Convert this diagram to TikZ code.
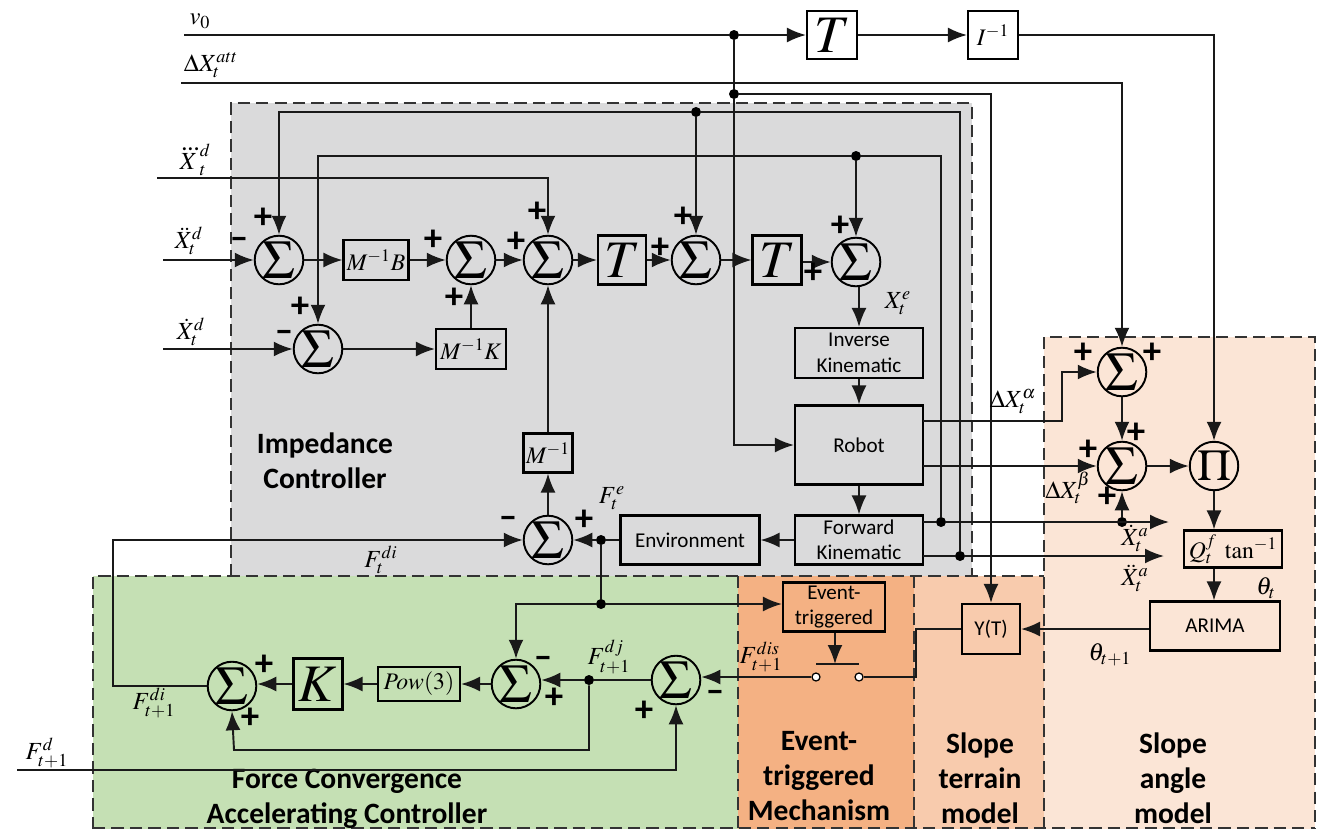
\documentclass[tikz,border=0pt]{standalone}
\usepackage{amsmath}
\usepackage{mathptmx}
\usepackage[no-math]{fontspec}
\setmainfont{Carlito}
\usetikzlibrary{arrows.meta}
\definecolor{impedgray}{HTML}{DADADB}
\definecolor{forcegreen}{HTML}{C5E0B4}
\definecolor{eventorange}{HTML}{F4B183}
\definecolor{terrainorange}{HTML}{F8CBAD}
\definecolor{anglepeach}{HTML}{FBE5D6}
\tikzset{
    zone/.style={draw=black!80, line width=0.9pt, dash pattern=on 7pt off 3.5pt},
    wire/.style={draw=black!90, line width=1.1pt},
    arrowwire/.style={wire, -{Latex[length=0.38cm,width=0.3cm]}},
    sumnode/.style={draw, circle, line width=1.1pt, minimum size=0.97cm, inner sep=0pt, font=\fontsize{31}{31}\selectfont},
    blockbox/.style 2 args={draw, rectangle, line width=1.2pt, minimum width=#1*0.02cm, minimum height=#2*0.02cm, inner sep=0pt, font=\fontsize{13.5}{16}\selectfont},
    wordbox/.style 2 args={blockbox={#1}{#2}, align=center, font=\fontsize{12}{14.5}\selectfont},
    junc/.style={circle, fill=black, inner sep=0pt, minimum size=0.2cm},
    contact/.style={circle, draw, fill=white, line width=0.7pt, inner sep=0pt, minimum size=0.16cm},
    signmark/.style={inner sep=0pt, font=\bfseries\fontsize{21}{21}\selectfont},
    mathlabel/.style={inner sep=0pt, font=\fontsize{14}{16}\selectfont},
    zonetitle/.style={inner sep=0pt, align=center, font=\bfseries\fontsize{16.8}{19.9}\selectfont}
}
\begin{document}
\begin{tikzpicture}[x=0.02cm, y=-0.02cm]
\useasboundingbox (0,0) rectangle (1317,829);

% regions
\fill[impedgray] (231,103) rectangle (972,576);
\fill[forcegreen] (93,576) rectangle (738,829);
\fill[eventorange] (738,576) rectangle (914,829);
\fill[terrainorange] (914,576) rectangle (1044,829);
\fill[anglepeach] (1044,337) rectangle (1315,829);
\draw[zone] (231,576) -- (231,103) -- (972,103) -- (972,576);
\draw[zone] (93,829) -- (93,576) -- (1044,576);
\draw[zone] (738,576) -- (738,829);
\draw[zone] (914,576) -- (914,829);
\draw[zone] (1044,829) -- (1044,337) -- (1315,337) -- (1315,829);
\draw[zone] (93,828) -- (1315,828);

\node[zonetitle] (titleimp) at (325,461) {Impedance\\Controller};
\node[zonetitle] (titleforce) at (347,799) {Force Convergence\\Accelerating Controller};
\node[zonetitle] (titleevent) at (819,776) {Event-\\triggered\\Mechanism};
\node[zonetitle] (titleterrain) at (980,778) {Slope\\terrain\\model};
\node[zonetitle] (titleangle) at (1173,778) {Slope\\angle\\model};

% summing points
\node[sumnode] (sumxdd) at (279,260) {$\Sigma$};
\node[sumnode] (sumxd) at (318,349) {$\Sigma$};
\node[sumnode] (sumb) at (471,260) {$\Sigma$};
\node[sumnode] (sumxddd) at (548,260) {$\Sigma$};
\node[sumnode] (sumt) at (696,260) {$\Sigma$};
\node[sumnode] (sumtt) at (856,262) {$\Sigma$};
\node[sumnode] (sumfe) at (548,540) {$\Sigma$};
\node[sumnode] (sumdj) at (516,684) {$\Sigma$};
\node[sumnode] (sumdi) at (232,686) {$\Sigma$};
\node[sumnode] (sumdis) at (676,680) {$\Sigma$};
\node[sumnode] (sumalpha) at (1122,372) {$\Sigma$};
\node[sumnode] (sumbeta) at (1122,466) {$\Sigma$};
\node[sumnode, font=\fontsize{25}{25}\selectfont] (prodnode) at (1214,466) {$\Pi$};

% blocks
\node[blockbox={50}{48}, font=\fontsize{30}{30}\selectfont] (topt) at (832,35) {$T$};
\node[blockbox={50}{48}] (inertia) at (993,35) {$I^{-1}$};
\node[blockbox={65}{40}] (minvb) at (376,260) {$M^{-1}B$};
\node[blockbox={70}{40}] (minvk) at (471,349) {$M^{-1}K$};
\node[blockbox={48}{49}, font=\fontsize{30}{30}\selectfont] (tone) at (622,260) {$T$};
\node[blockbox={49}{49}, font=\fontsize{30}{30}\selectfont] (ttwo) at (777,260) {$T$};
\node[blockbox={49}{39}] (minv) at (548,453) {$M^{-1}$};
\node[wordbox={128}{50}] (inverse) at (859,353) {Inverse\\Kinematic};
\node[wordbox={128}{79}] (robot) at (859,445) {Robot};
\node[wordbox={128}{49}] (forward) at (859,540) {Forward\\Kinematic};
\node[wordbox={139}{49}] (environment) at (690,540) {Environment};
\node[wordbox={102}{49}] (event) at (834,607) {Event-\\triggered};
\node[wordbox={58}{50}] (yt) at (991,629) {Y(T)};
\node[wordbox={130}{49}] (arima) at (1215,626) {ARIMA};
\node[blockbox={98}{37}] (qtan) at (1233,549) {$Q_t^f\ \tan^{-1}$};
\node[blockbox={82}{34}] (pow) at (419,684) {$Pow(3)$};
\node[blockbox={49}{51}, font=\fontsize{30}{30}\selectfont] (gaink) at (318,684) {$K$};

% junctions
\node[junc] (jvzero) at (734,35) {};
\node[junc] (jslope) at (734,94) {};
\node[junc] (jtop) at (696,112) {};
\node[junc] (jmid) at (856,156) {};
\node[junc] (jfone) at (941,522) {};
\node[junc] (jftwo) at (960,556) {};
\node[junc] (jfa) at (1122,522) {};
\node[junc] (jfe) at (601,540) {};
\node[junc] (jev) at (601,604) {};
\node[junc] (jdj) at (589,680) {};

% switch
\node[contact] (contl) at (816,677) {};
\node[contact] (contr) at (859,677) {};
\coordinate (barl) at (816,664);
\coordinate (barr) at (859,664);
\coordinate (barm) at (835,664);
\draw[wire] (barl) -- (barr);
\draw[arrowwire] (event.south -| barm) -- (barm);

% free ends and bends
\coordinate (invzero) at (184,35);
\coordinate (inatt) at (181,83);
\coordinate (inxddd) at (157,178);
\coordinate (inxdd) at (163,260);
\coordinate (inxd) at (163,349);
\coordinate (infd) at (17,770);
\coordinate (outxd) at (1169,522);
\coordinate (outxdd) at (1164,556);

% top signals
\draw[wire] (invzero) -- (jvzero);
\draw[arrowwire] (jvzero) -- (topt.west);
\draw[arrowwire] (topt.east) -- (inertia.west);
\draw[arrowwire] (inertia.east) -| (prodnode.north);
\draw[arrowwire] (inatt) -| (sumalpha.north);
\draw[wire] (jvzero) -- (jslope);
\draw[arrowwire] (jslope) |- (robot.west);
\draw[arrowwire] (jslope) -| (yt.north);

% feedback inside the controller
\draw[arrowwire] (jftwo) |- (jtop) -- (sumt.north);
\draw[arrowwire] (jtop) -| (sumxdd.north);
\draw[arrowwire] (jfone) |- (jmid) -- (sumtt.north);
\draw[arrowwire] (jmid) -| (sumxd.north);
\draw[arrowwire] (inxddd) -| (sumxddd.north);
\draw[arrowwire] (inxdd) -- (sumxdd.west);
\draw[arrowwire] (inxd) -- (sumxd.west);
\draw[arrowwire] (sumxdd.east) -- (minvb.west);
\draw[arrowwire] (minvb.east) -- (sumb.west);
\draw[arrowwire] (sumxd.east) -- (minvk.west);
\draw[arrowwire] (minvk.north) -- (sumb.south);
\draw[arrowwire] (sumb.east) -- (sumxddd.west);
\draw[arrowwire] (sumxddd.east) -- (tone.west);
\draw[arrowwire] (tone.east) -- (sumt.west);
\draw[arrowwire] (sumt.east) -- (ttwo.west);
\draw[arrowwire] (ttwo.east |- sumtt.west) -- (sumtt.west);
\draw[arrowwire] (sumtt.south -| inverse.north) -- (inverse.north);
\draw[arrowwire] (inverse.south) -- (robot.north);
\draw[arrowwire] (robot.south) -- (forward.north);
\draw[arrowwire] (forward.west) -- (environment.east);
\draw[wire] (environment.west) -- (jfe);
\draw[arrowwire] (jfe) -- (sumfe.east);
\draw[arrowwire] (sumfe.north) -- (minv.south);
\draw[arrowwire] (minv.north) -- (sumxddd.south);

% robot outputs
\coordinate (robotalpha) at (923,421);
\coordinate (alphabend) at (1062,421);
\draw[arrowwire] (robotalpha) -- (alphabend) |- (sumalpha.west);
\coordinate (robotbeta) at (923,466);
\draw[arrowwire] (robotbeta) -- (sumbeta.west);
\coordinate (forwardone) at (923,522);
\coordinate (forwardtwo) at (923,556);
\draw[wire] (forwardone) -- (jfone);
\draw[arrowwire] (jfone) -- (outxd);
\draw[wire] (forwardtwo) -- (jftwo);
\draw[arrowwire] (jftwo) -- (outxdd);
\draw[arrowwire] (jfa) -- (sumbeta.south);
\draw[arrowwire] (sumalpha.south) -- (sumbeta.north);
\draw[arrowwire] (sumbeta.east) -- (prodnode.west);
\draw[arrowwire] (prodnode.south) -- (prodnode.south |- qtan.north);
\draw[arrowwire] (qtan.south -| prodnode.south) -- (arima.north -| prodnode.south);
\draw[arrowwire] (arima.west |- yt.east) -- (yt.east);

% force loop
\coordinate (switchbend) at (916,677);
\coordinate (ytbend) at (916,629);
\draw[wire] (yt.west) -- (ytbend) -- (switchbend) -- (contr);
\draw[arrowwire] (contl) -- (sumdis.east |- contl);
\draw[wire] (sumdis.west) -- (jdj);
\draw[arrowwire] (jdj) -- (sumdj.east |- jdj);
\draw[arrowwire] (infd) -| (sumdis.south);
\draw[wire] (jfe) -- (jev);
\draw[arrowwire] (jev) -- (event.west |- jev);
\draw[arrowwire] (jev) -| (sumdj.north);
\draw[arrowwire] (sumdj.west) -- (pow.east);
\draw[arrowwire] (pow.west) -- (gaink.east);
\draw[arrowwire] (gaink.west) -- (sumdi.east |- gaink.west);
\coordinate (loopbend) at (589,750);
\coordinate (loopend) at (234,750);
\draw[arrowwire] (jdj) -- (loopbend) -- (loopend) -- (sumdi.south);
\coordinate (dileft) at (113,686);
\coordinate (ditop) at (113,540);
\draw[arrowwire] (sumdi.west) -- (dileft) -- (ditop) -- (sumfe.west);

% signs
\foreach \xp/\yp [count=\i] in {263/218, 300/307, 433/240, 454/298, 516/242, 537/212, 660/248, 683/217, 840/226, 813/273, 1083/353, 1152/353, 1088/450, 1136/433, 1107/497, 584/520, 554/698, 264/665, 250/718, 644/711}
    \node[signmark] (plus\i) at (\xp,\yp) {+};
\foreach \xp/\yp [count=\i] in {239/243, 284/336, 508/522, 543/662, 715/696}
    \node[signmark] (minus\i) at (\xp,\yp) {--};

% signal labels
\node[mathlabel] (lvzero) at (200,21) {$\boldsymbol{v_0}$};
\node[mathlabel] (lxatt) at (211,65) {$\Delta X_t^{att}$};
\node[mathlabel] (lxddd) at (194,160) {$\dddot{X}_t^{d}$};
\node[mathlabel] (lxdd) at (189,241) {$\ddot{X}_t^{d}$};
\node[mathlabel] (lxd) at (191,332) {$\dot{X}_t^{d}$};
\node[mathlabel] (lxe) at (898,303) {$X_t^{e}$};
\node[mathlabel] (lxalpha) at (1013,402) {$\Delta X_t^{\alpha}$};
\node[mathlabel] (lxbeta) at (1068,488) {$\Delta X_t^{\beta}$};
\node[mathlabel] (lxa) at (1135,538) {$\dot{X}_t^{a}$};
\node[mathlabel] (lxaa) at (1135,578) {$\ddot{X}_t^{a}$};
\node[mathlabel] (lthetat) at (1266,588) {$\theta_t$};
\node[mathlabel] (lthetan) at (1110,655) {$\theta_{t+1}$};
\node[mathlabel] (lfe) at (612,498) {$F_t^{e}$};
\node[mathlabel] (lfdi) at (381,560) {$F_t^{di}$};
\node[mathlabel] (lfndi) at (154,703) {$F_{t+1}^{di}$};
\node[mathlabel] (lfnd) at (47,753) {$F_{t+1}^{d}$};
\node[mathlabel] (lfndj) at (609,657) {$F_{t+1}^{dj}$};
\node[mathlabel] (lfndis) at (761,657) {$F_{t+1}^{dis}$};
\end{tikzpicture}
\end{document}
